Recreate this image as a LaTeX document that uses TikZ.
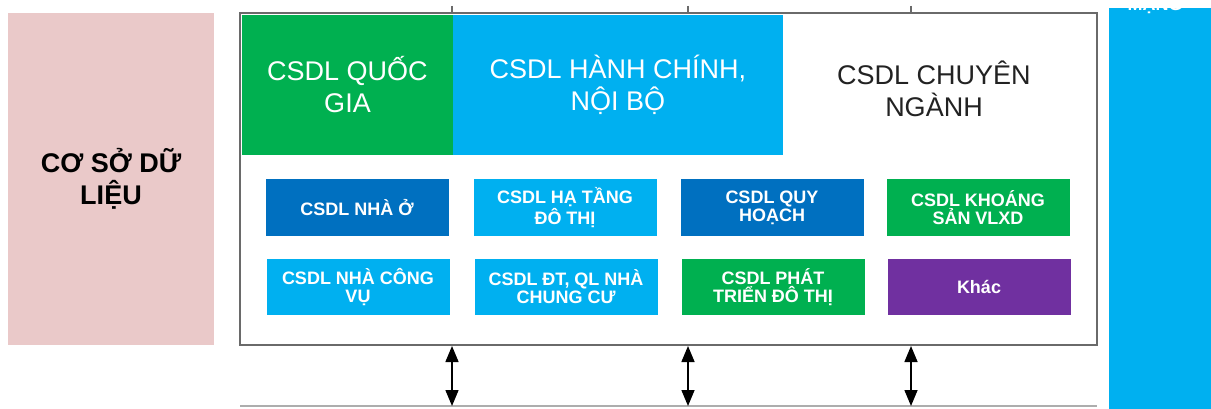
\documentclass[tikz,border=0pt]{standalone}
\usepackage{fontspec}
\setmainfont{Liberation Sans}
\usetikzlibrary{arrows.meta}
\definecolor{cgreen}{HTML}{00B050}
\definecolor{clblue}{HTML}{00B0F0}
\definecolor{cdblue}{HTML}{0070C0}
\definecolor{cpurple}{HTML}{7030A0}
\definecolor{cpink}{HTML}{EAC9C9}
\definecolor{cgray}{HTML}{6A6A6A}
\definecolor{ctext}{HTML}{222222}
\begin{document}
\begin{tikzpicture}[x=1pt,y=-1pt,
  box/.style={rectangle, inner sep=0pt, minimum width=183pt, minimum height=56pt, text=white, align=center, font=\fontsize{18}{18}\selectfont\bfseries},
  head/.style={rectangle, inner sep=0pt, align=center, minimum height=140pt, font=\fontsize{27}{32}\selectfont},
  dbl/.style={{Triangle[width=13pt,length=16pt]}-{Triangle[width=13pt,length=16pt]}, line width=1.5pt, black},
  tick/.style={cgray, line width=1.5pt},
]
\useasboundingbox (0,0) rectangle (1211,409);
\fill[white] (0,0) rectangle (1211,409);

% left label box
\node[fill=cpink, minimum width=206pt, minimum height=332pt, inner sep=0pt, align=center,
      font=\fontsize{27}{32}\selectfont\bfseries, text=black] (db) at (111,179) {CƠ SỞ DỮ\\LIỆU};

% right bar
\node[fill=clblue, minimum width=102pt, minimum height=401pt, inner sep=0pt] (bar) at (1160,208.5) {};
\begin{scope}
  \clip (1109,8) rectangle (1211,409);
  \node[text=white, font=\fontsize{18}{18}\selectfont\bfseries, anchor=base, inner sep=0pt] (mang) at (1155,11) {MẠNG};
\end{scope}

% main box
\node[fill=white, draw=cgray, line width=2pt, minimum width=857pt, minimum height=332pt, inner sep=0pt] (main) at (668.5,179) {};

% header blocks
\node[head, fill=cgreen, text=white, minimum width=211pt] (qg) at (347.5,85) {CSDL QUỐC\\GIA};
\node[head, fill=clblue, text=white, minimum width=330pt] (hc) at (618,85) {CSDL HÀNH CHÍNH,\\NỘI BỘ};
\node[head, text=ctext, minimum width=300pt] (cn) at (934,89) {CSDL CHUYÊN\\NGÀNH};

% small boxes
\node[box, fill=cdblue] (nho) at (357,207.5) {CSDL NHÀ Ở};
\node[box, fill=clblue] (htdt) at (565,207.5) {CSDL HẠ TẦNG\\ĐÔ THỊ};
\node[box, fill=cdblue] (qh) at (772,207.5) {CSDL QUY\\HOẠCH};
\node[box, fill=cgreen] (ks) at (978,207.5) {CSDL KHOÁNG\\SẢN VLXD};
\node[box, fill=clblue] (ncv) at (358,287) {CSDL NHÀ CÔNG\\VỤ};
\node[box, fill=clblue] (cc) at (566,287) {CSDL ĐT, QL NHÀ\\CHUNG CƯ};
\node[box, fill=cgreen] (ptdt) at (773,287) {CSDL PHÁT\\TRIỂN ĐÔ THỊ};
\node[box, fill=cpurple] (khac) at (979,287) {Khác};

% bottom edge of next layer
\coordinate (bl) at (240,406);
\coordinate (br) at (1097,406);
\draw[cgray!55, line width=2pt] (bl) -- (br);

% connectors
\coordinate (b1) at (452,406);
\coordinate (b2) at (688,406);
\coordinate (b3) at (911,406);
\draw[dbl] (b1 |- main.south) -- (b1);
\draw[dbl] (b2 |- main.south) -- (b2);
\draw[dbl] (b3 |- main.south) -- (b3);

% top ticks
\coordinate (t1) at (452,6);
\coordinate (t2) at (688,6);
\coordinate (t3) at (911,6);
\draw[tick] (t1) -- (t1 |- main.north);
\draw[tick] (t2) -- (t2 |- main.north);
\draw[tick] (t3) -- (t3 |- main.north);
\end{tikzpicture}
\end{document}
